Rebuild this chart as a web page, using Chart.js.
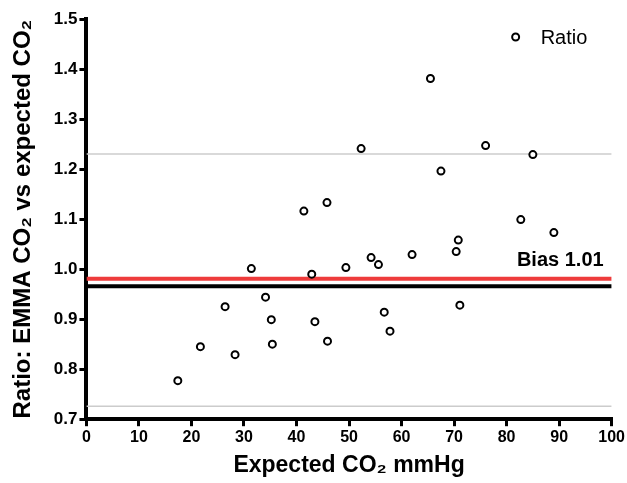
<!DOCTYPE html>
<html>
<head>
<meta charset="utf-8">
<script src="https://cdn.jsdelivr.net/npm/chart.js@4.4.1/dist/chart.umd.min.js"></script>
<style>
    html, body { margin: 0; padding: 0; background: #fff; }
    #wrap { width: 627px; height: 483px; }
</style>
</head>
<body>
<div id="wrap"><canvas id="ratioChart" width="627" height="483"></canvas></div>
<script>
// expected CO2 (mmHg) and EMMA/expected ratio
const expectedCO2 = [17.4, 21.7, 26.4, 28.3, 31.4, 34.1, 35.2, 35.4, 41.4, 42.9,
    43.5, 45.8, 45.9, 49.4, 52.3, 54.2, 55.6, 56.7, 57.8, 62.0,
    65.5, 67.5, 70.4, 70.8, 71.1, 76.0, 82.7, 85.0, 89.0];
const ratio = [0.777, 0.845, 0.925, 0.829, 1.001, 0.944, 0.899, 0.850, 1.116, 0.990,
    0.895, 1.133, 0.856, 1.003, 1.241, 1.023, 1.009, 0.914, 0.876, 1.029,
    1.381, 1.196, 1.035, 1.058, 0.928, 1.247, 1.099, 1.229, 1.073];

// horizontal reference lines
const lineRange = [0, 100];
const biasLine = 0.981;
const meanLine = 0.966;
const upperLimit = 1.23;
const lowerLimit = 0.726;
const biasLabel = 'Bias 1.01';

const xTicks = [0, 10, 20, 30, 40, 50, 60, 70, 80, 90, 100];
const yTicks = [0.7, 0.8, 0.9, 1.0, 1.1, 1.2, 1.3, 1.4, 1.5];

const fontFamily = "'Liberation Sans', Arial, sans-serif";

function hLine(y) {
    return lineRange.map(x => ({x: x, y: y}));
}

// "Bias 1.01" label and the small legend in the top right corner
const extraText = {
    id: 'extraText',
    afterDatasetsDraw(chart) {
        const {ctx, scales, chartArea} = chart;
        ctx.save();
        ctx.font = 'bold 20px ' + fontFamily;
        ctx.fillStyle = '#000';
        ctx.textAlign = 'right';
        ctx.textBaseline = 'bottom';
        ctx.fillText(biasLabel, scales.x.getPixelForValue(lineRange[1]) - 8,
            scales.y.getPixelForValue(biasLine) - 8);

        const ds = chart.data.datasets[0];
        const lx = chartArea.right - 96;
        const ly = chartArea.top + 18;
        ctx.beginPath();
        ctx.arc(lx, ly, ds.pointRadius, 0, Math.PI * 2);
        ctx.fillStyle = ds.backgroundColor;
        ctx.fill();
        ctx.lineWidth = ds.borderWidth;
        ctx.strokeStyle = ds.borderColor;
        ctx.stroke();
        ctx.font = '20px ' + fontFamily;
        ctx.fillStyle = '#000';
        ctx.textAlign = 'left';
        ctx.textBaseline = 'middle';
        ctx.fillText(ds.label, lx + 25, ly + 1);
        ctx.restore();
    }
};

const ctx = document.getElementById('ratioChart').getContext('2d');
const ratioChart = new Chart(ctx, {
    type: 'scatter',
    data: {
        datasets: [{
                label: 'Ratio',
                data: expectedCO2.map((x, i) => ({x: x, y: ratio[i]})),
                pointStyle: 'circle',
                pointRadius: 3.5,
                borderWidth: 2,
                borderColor: '#000',
                backgroundColor: '#fff',
                order: 0
            }, {
                label: 'Bias',
                data: hLine(biasLine),
                showLine: true,
                borderColor: '#ee3b3b',
                borderWidth: 4,
                pointRadius: 0,
                order: 1
            }, {
                label: 'Mean',
                data: hLine(meanLine),
                showLine: true,
                borderColor: '#000',
                borderWidth: 4,
                pointRadius: 0,
                order: 2
            }, {
                label: 'Upper',
                data: hLine(upperLimit),
                showLine: true,
                borderColor: '#cccccc',
                borderWidth: 1.5,
                pointRadius: 0,
                order: 3
            }, {
                label: 'Lower',
                data: hLine(lowerLimit),
                showLine: true,
                borderColor: '#cccccc',
                borderWidth: 1.5,
                pointRadius: 0,
                order: 3
            }]
    },
    options: {
        responsive: false,
        animation: false,
        layout: {
            padding: {top: 19, right: 14, left: 9, bottom: 4}
        },
        scales: {
            x: {
                type: 'linear',
                min: 0,
                max: 100,
                afterBuildTicks: axis => { axis.ticks = xTicks.map(v => ({value: v})); },
                ticks: {
                    color: '#000',
                    font: {family: fontFamily, size: 16, weight: 'bold'},
                    padding: 2,
                    maxRotation: 0
                },
                grid: {
                    drawOnChartArea: false,
                    tickLength: 7,
                    lineWidth: 3,
                    color: '#000'
                },
                border: {display: true, color: '#000', width: 4},
                title: {
                    display: true,
                    text: 'Expected CO₂ mmHg',
                    color: '#000',
                    font: {family: fontFamily, size: 23, weight: 'bold'},
                    padding: {top: 2, bottom: 0}
                }
            },
            y: {
                min: 0.7,
                max: 1.5,
                afterBuildTicks: axis => { axis.ticks = yTicks.map(v => ({value: v})); },
                ticks: {
                    color: '#000',
                    font: {family: fontFamily, size: 17, weight: 'bold'},
                    padding: 2,
                    callback: v => v.toFixed(1)
                },
                grid: {
                    drawOnChartArea: false,
                    tickLength: 7,
                    lineWidth: 3,
                    color: '#000'
                },
                border: {display: true, color: '#000', width: 4},
                title: {
                    display: true,
                    text: 'Ratio: EMMA CO₂ vs expected CO₂',
                    color: '#000',
                    font: {family: fontFamily, size: 24, weight: 'bold'},
                    padding: {top: 0, bottom: 14}
                }
            }
        },
        plugins: {
            legend: {display: false},
            tooltip: {enabled: false}
        }
    },
    plugins: [extraText]
});
</script>
</body>
</html>
